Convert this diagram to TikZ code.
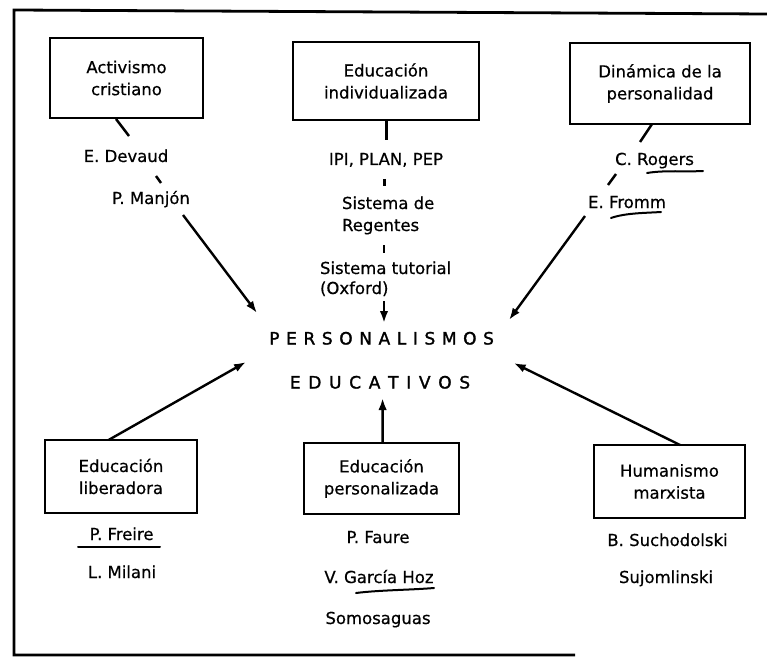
\documentclass[tikz,border=0pt]{standalone}
\usepackage{fontspec}
\setmainfont{DejaVu Sans}[FakeBold=0.6]
\usetikzlibrary{arrows.meta,calc}
\newcommand\mylsa{\kern6.6pt}
\newcommand\mylsb{\kern7.7pt}
\begin{document}
\begin{tikzpicture}[x=1pt,y=-1pt,
  every node/.style={font=\fontsize{16.5}{22}\selectfont, inner sep=0pt, outer sep=0pt},
  box/.style={draw, line width=2.8pt, align=center},
  lab/.style={anchor=base},
  labw/.style={anchor=base west},
  title/.style={anchor=base, font=\fontsize{17}{22}\selectfont\addfontfeature{FakeBold=1.6}},
  link/.style={line width=2.5pt},
  arr/.style={line width=2.4pt, -{Latex[length=12pt,width=8.5pt]}},
  uline/.style={line width=2pt, line cap=round}]
\useasboundingbox (0,0) rectangle (767,660);
% frame
\draw[line width=2.8pt] (767,14) -- (14,10) -- (14,655) -- (575,655);
% boxes
\node[box, minimum width=153pt, minimum height=80pt] (b1) at (126.5,78) {Activismo\\cristiano};
\node[box, minimum width=186pt, minimum height=78pt] (b2) at (386,81) {Educación\\individualizada};
\node[box, minimum width=180pt, minimum height=81pt] (b3) at (660,83.5) {Dinámica de la\\personalidad};
\node[box, minimum width=152pt, minimum height=73pt] (b4) at (121,476.5) {Educación\\liberadora};
\node[box, minimum width=155pt, minimum height=71pt] (b5) at (381.5,478.5) {Educación\\personalizada};
\node[box, minimum width=151pt, minimum height=73pt] (b6) at (669.5,481.5) {Humanismo\\marxista};
% labels top
\node[lab] (dev) at (126,162) {E. Devaud};
\node[lab] (man) at (151,204) {P. Manjón};
\node[lab] (ipi) at (386,165) {IPI, PLAN, PEP};
\node[labw] (reg1) at (342,209) {Sistema de};
\node[labw] (reg2) at (342,231) {Regentes};
\node[labw] (tut1) at (320,274) {Sistema tutorial};
\node[labw] (tut2) at (320,294) {(Oxford)};
\node[lab] (rog) at (654.5,165) {C. Rogers};
\node[lab] (fro) at (627,208) {E. Fromm};
% centre
\node[title] (per) at (381.6,344.5) {P\mylsa E\mylsa R\mylsa S\mylsa O\mylsa N\mylsa A\mylsa L\mylsa I\mylsa S\mylsa M\mylsa O\mylsa S};
\node[title] (edu) at (380,388.5) {E\mylsb D\mylsb U\mylsb C\mylsb A\mylsb T\mylsb I\mylsb V\mylsb O\mylsb S};
% labels bottom
\node[lab] (fre) at (121.6,540) {P. Freire};
\node[lab] (mil) at (122,578) {L. Milani};
\node[lab] (fau) at (378,543) {P. Faure};
\node[lab] (gar) at (379,583) {V. García Hoz};
\node[lab] (som) at (378,624) {Somosaguas};
\node[lab] (suc) at (667.5,546) {B. Suchodolski};
\node[lab] (suj) at (666,583) {Sujomlinski};
% connector coordinates
\coordinate (p1a) at (116,119);
\coordinate (p1b) at (129,136);
\coordinate (p1c) at (156,176);
\coordinate (p1d) at (161,183);
\coordinate (p1e) at (183,215);
\coordinate (p1f) at (257,313);
\coordinate (p2a) at (386.5,120);
\coordinate (p2b) at (386.5,140);
\coordinate (p2c) at (384.5,179);
\coordinate (p2d) at (384.5,186);
\coordinate (p2e) at (384,245);
\coordinate (p2f) at (384,253);
\coordinate (p2g) at (384,301);
\coordinate (p2h) at (384,323);
\coordinate (p3a) at (652,124);
\coordinate (p3b) at (640,142);
\coordinate (p3c) at (616,174);
\coordinate (p3d) at (608,185);
\coordinate (p3e) at (585,216);
\coordinate (p3f) at (509,320);
\coordinate (q4) at (246,362);
\coordinate (q5) at (382.6,398);
\coordinate (q6) at (513.7,363);
% connectors
\draw[link] (p1a) -- (p1b);
\draw[link] (p1c) -- (p1d);
\draw[arr] (p1e) -- (p1f);
\draw[link] (p2a) -- (p2b);
\draw[link] (p2c) -- (p2d);
\draw[link] (p2e) -- (p2f);
\draw[arr] (p2g) -- (p2h);
\draw[link] (p3a) -- (p3b);
\draw[link] (p3c) -- (p3d);
\draw[arr] (p3e) -- (p3f);
\draw[arr] ($(b4.north west)!0.418!(b4.north east)$) -- (q4);
\draw[arr] ($(b5.north west)!0.507!(b5.north east)$) -- (q5);
\draw[arr] ($(b6.north west)!0.57!(b6.north east)$) -- (q6);
% hand underlines
\draw[uline] (647,173) .. controls (665,170) and (685,172) .. (703,171);
\draw[uline] (611,218) .. controls (625,213) and (645,213) .. (661,212);
\draw[uline] (78,547) -- (160,547);
\draw[uline] (356,593) .. controls (380,590) and (410,590) .. (434,588);
\end{tikzpicture}
\end{document}
